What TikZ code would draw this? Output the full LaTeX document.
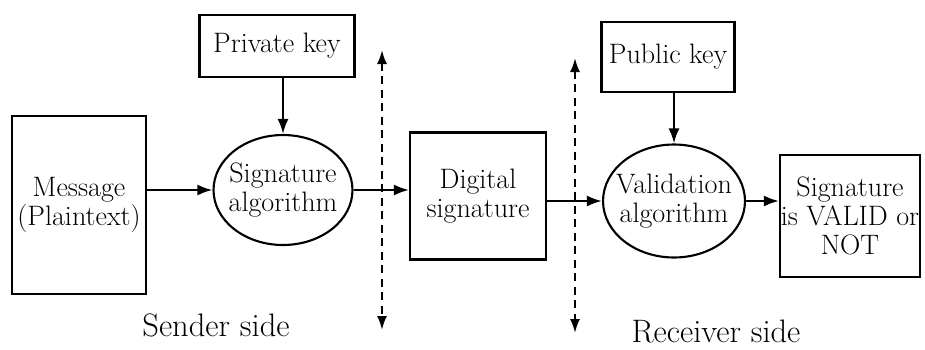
\documentclass[tikz,border=0pt]{standalone}
\usepackage{fontspec}
\setmainfont{Latin Modern Roman}
\usetikzlibrary{shapes.geometric,arrows.meta}
\begin{document}
\begin{tikzpicture}[x=0.02cm,y=-0.02cm,
  txt/.style={font=\fontsize{16}{16.5}\selectfont, align=center, inner sep=0pt},
  side/.style={font=\fontsize{18.5}{20}\selectfont, inner sep=0pt},
  box/.style={txt, draw, line width=1.2pt, rectangle},
  oval/.style={txt, draw, line width=1.2pt, ellipse, inner xsep=-0.16cm},
  arr/.style={line width=1.3pt, -{Latex[length=0.3cm,width=0.22cm]}},
  divider/.style={line width=1.2pt, dash pattern=on 0.16cm off 0.11cm, {Latex[length=0.28cm,width=0.2cm]}-{Latex[length=0.28cm,width=0.2cm]}}]
\useasboundingbox (0,0) rectangle (925,349);
\node[box, minimum width=2.68cm, minimum height=3.56cm] (msg) at (79,205) {Message\\(Plaintext)};
\node[box, minimum width=3.1cm, minimum height=1.24cm] (pk) at (277,46) {Private key};
\node[oval, minimum width=2.78cm, minimum height=2.2cm] (sig) at (283,190) {Signature\\algorithm};
\node[box, minimum width=2.72cm, minimum height=2.54cm] (ds) at (478,196) {Digital\\signature};
\node[box, minimum width=2.66cm, minimum height=1.4cm] (pub) at (668,57) {Public key};
\node[oval, minimum width=2.84cm, minimum height=2.26cm] (val) at (674,201) {Validation\\algorithm};
\node[box, minimum width=2.8cm, minimum height=2.44cm] (res) at (850,216) {Signature\\is VALID or\\NOT};
\node[side] (snd) at (216,325) {Sender side};
\node[side] (rcv) at (716,331) {Receiver side};
\coordinate (d1t) at (382,50);
\coordinate (d1b) at (382,330);
\coordinate (d2t) at (575,58);
\coordinate (d2b) at (575,333);
\draw[divider] (d1t) -- (d1b);
\draw[divider] (d2t) -- (d2b);
\draw[arr] (msg.east |- sig.west) -- (sig.west);
\draw[arr] (pk.south -| sig.north) -- (sig.north);
\draw[arr] (sig.east) -- (ds.west |- sig.east);
\draw[arr] (ds.east |- val.west) -- (val.west);
\draw[arr] (pub.south -| val.north) -- (val.north);
\draw[arr] (val.east) -- (res.west |- val.east);
\end{tikzpicture}
\end{document}
